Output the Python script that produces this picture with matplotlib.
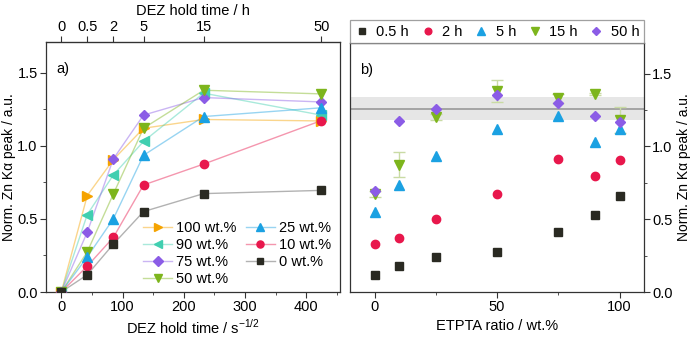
import numpy as np
import matplotlib
matplotlib.use("Agg")
import matplotlib.pyplot as plt
from matplotlib.ticker import MultipleLocator

plt.rcParams['font.family'] = ['Liberation Sans', 'DejaVu Sans']
plt.rcParams['font.size'] = 10
plt.rcParams['mathtext.fontset'] = 'custom'
plt.rcParams['mathtext.rm'] = 'Liberation Sans'

# hold times (h) and their sqrt(seconds)
hold_h = [0, 0.5, 2, 5, 15, 50]
hold_labels = ['0', '0.5', '2', '5', '15', '50']
hold_sqrt_s = [0, 42.4, 84.9, 134.2, 232.4, 424.3]

ratios = [100, 90, 75, 50, 25, 10, 0]
ratio_labels = ['100 wt.%', '90 wt.%', '75 wt.%', '50 wt.%', '25 wt.%', '10 wt.%', '0 wt.%']

v100 = [0, 0.66, 0.905, 1.12, 1.18, 1.17]
v90 = [0, 0.53, 0.80, 1.03, 1.36, 1.21]
v75 = [0, 0.41, 0.91, 1.21, 1.33, 1.30]
v50 = [0, 0.275, 0.67, 1.12, 1.38, 1.355]
v25 = [0, 0.24, 0.50, 0.935, 1.20, 1.26]
v10 = [0, 0.177, 0.373, 0.732, 0.875, 1.172]
v0 = [0, 0.118, 0.327, 0.55, 0.673, 0.695]
series = [v100, v90, v75, v50, v25, v10, v0]

colors = ['#F5A300', '#40CFB0', '#8B5CE6', '#7DB51C', '#1BA1E2', '#E8174C', '#2A2A22']
line_colors = ['#F5A300', '#40CFB0', '#8B5CE6', '#7DB51C', '#1BA1E2', '#E8174C', '#555555']
markers = ['>', '<', 'D', 'v', '^', 'o', 's']
msizes = [7, 7, 5.5, 7, 7, 6, 5.5]

# right panel: error bars for 15 h series (by ratio order above)
err15 = [0.09, 0.01, 0.03, 0.075, 0.02, 0.085, 0.02]
band_mean = 1.26
band_sd = 0.077

time_labels_b = ['0.5 h', '2 h', '5 h', '15 h', '50 h']
time_idx_b = [1, 2, 3, 4, 5]
time_colors = ['#2A2A22', '#E8174C', '#1BA1E2', '#7DB51C', '#8B5CE6']
time_markers = ['s', 'o', '^', 'v', 'D']
time_msizes = [5.5, 6, 7, 7, 5.5]

fig = plt.figure(figsize=(6.94, 3.38), dpi=100)
ax1 = fig.add_axes([46/694, 46/338, 294/694, 250/338])
ax2 = fig.add_axes([350/694, 46/338, 294/694, 249/338])

spine_c = '#333333'
for ax in (ax1, ax2):
    for s in ax.spines.values():
        s.set_color(spine_c)
        s.set_linewidth(0.9)

LS = 10.5  # tick labels
AL = 10.5  # axis labels

# ---- panel a ----
for vals, c, lc, m, ms, lab in zip(series, colors, line_colors, markers, msizes, ratio_labels):
    ax1.plot(hold_sqrt_s, vals, color=lc, alpha=0.45, lw=1, zorder=2)
    ax1.plot(hold_sqrt_s, vals, ls='none', marker=m, ms=ms, color=c, mec=c, zorder=3)
    ax1.plot([], [], color=lc, marker=m, ms=ms * 0.85, mfc=c, mec=c, lw=1, label=lab)

ax1.set_xlim(-25, 455)
ax1.set_ylim(0, 1.71)
ax1.xaxis.set_major_locator(MultipleLocator(100))
ax1.xaxis.set_minor_locator(MultipleLocator(50))
ax1.yaxis.set_major_locator(MultipleLocator(0.5))
ax1.yaxis.set_minor_locator(MultipleLocator(0.25))
ax1.yaxis.set_major_formatter(matplotlib.ticker.FormatStrFormatter('%.1f'))
ax1.tick_params(which='both', direction='out', color=spine_c, labelsize=LS, pad=2)
ax1.tick_params(which='major', length=4)
ax1.tick_params(which='minor', length=2.5)
ax1.set_xlabel('DEZ hold time / s$^{-1/2}$', fontsize=AL, labelpad=3)
ax1.set_ylabel('Norm. Zn K\u03b1 peak / a.u.', fontsize=10, labelpad=1)
ax1.text(0.035, 0.92, 'a)', transform=ax1.transAxes, fontsize=AL, va='top')

top = ax1.secondary_xaxis('top')
top.set_xticks(hold_sqrt_s)
top.set_xticklabels(hold_labels)
top.tick_params(direction='out', length=4, color=spine_c, labelsize=LS, pad=2)
top.set_xlabel('DEZ hold time / h', fontsize=AL, labelpad=3)

leg1 = ax1.legend(loc='lower right', bbox_to_anchor=(1.0, -0.01), ncol=2, frameon=False,
                  fontsize=LS, handlelength=2.0, columnspacing=0.6, labelspacing=0.2,
                  handletextpad=0.3, borderaxespad=0.2)
for line, lc in zip(leg1.get_lines(), line_colors):
    line.set_color(matplotlib.colors.to_rgba(lc, 0.45))

# ---- panel b ----
ax2.axhspan(band_mean - band_sd, band_mean + band_sd, color='#e6e6e6', zorder=0, lw=0)
ax2.axhline(band_mean, color='#999999', lw=1.2, zorder=1)

for ti, lab, c, m, ms in zip(time_idx_b, time_labels_b, time_colors, time_markers, time_msizes):
    yv = [s[ti] for s in series]
    if lab == '15 h':
        ax2.errorbar(ratios, yv, yerr=err15, fmt='none', ecolor='#c9dba4', elinewidth=1,
                     capsize=4, capthick=1, zorder=2)
    ax2.plot(ratios, yv, ls='none', marker=m, ms=ms, color=c, zorder=3, label=lab)

ax2.set_xlim(-10, 110)
ax2.set_ylim(0, 1.71)
ax2.xaxis.set_major_locator(MultipleLocator(50))
ax2.xaxis.set_minor_locator(MultipleLocator(25))
ax2.yaxis.set_major_locator(MultipleLocator(0.5))
ax2.yaxis.set_minor_locator(MultipleLocator(0.25))
ax2.yaxis.set_major_formatter(matplotlib.ticker.FormatStrFormatter('%.1f'))
ax2.yaxis.tick_right()
ax2.yaxis.set_label_position('right')
ax2.tick_params(which='both', direction='out', color=spine_c, labelsize=LS, pad=2)
ax2.tick_params(which='major', length=4)
ax2.tick_params(which='minor', length=2.5)
ax2.set_xlabel('ETPTA ratio / wt.%', fontsize=AL, labelpad=3)
ax2.set_ylabel('Norm. Zn K\u03b1 peak / a.u.', fontsize=10, labelpad=3, rotation=90)
ax2.text(0.035, 0.92, 'b)', transform=ax2.transAxes, fontsize=AL, va='top')

leg2 = ax2.legend(loc='lower left', bbox_to_anchor=(0, 1.0, 1, 0.09), mode='expand', ncol=5,
                  frameon=True, fancybox=False, borderaxespad=0, fontsize=LS,
                  handlelength=1.0, handletextpad=0.5, markerscale=0.8, borderpad=0.3)
leg2.get_frame().set_edgecolor('#888888')
leg2.get_frame().set_linewidth(0.9)

fig.savefig('out.png', dpi=100)
